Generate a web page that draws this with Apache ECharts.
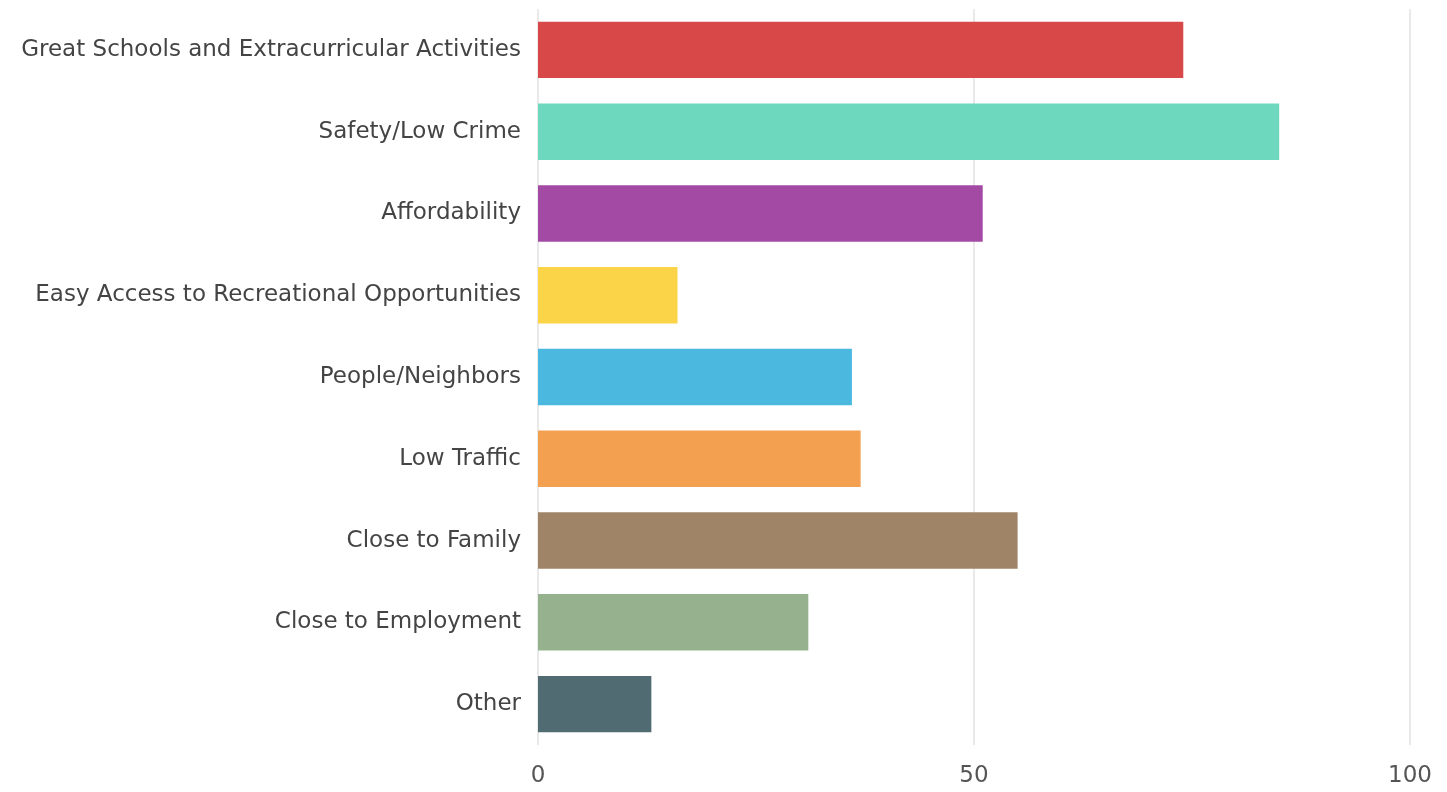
<!DOCTYPE html>
<html>
<head>
<meta charset="utf-8">
<script src="https://cdn.jsdelivr.net/npm/echarts@6/dist/echarts.min.js"></script>
<style>
  html, body { margin: 0; padding: 0; background: #ffffff; }
  #chart { width: 1447px; height: 792px; }
</style>
</head>
<body>
<div id="chart"></div>
<script>
// Reasons for choosing a neighborhood (share of respondents)
const categories = [
  'Great Schools and Extracurricular Activities',
  'Safety/Low Crime',
  'Affordability',
  'Easy Access to Recreational Opportunities',
  'People/Neighbors',
  'Low Traffic',
  'Close to Family',
  'Close to Employment',
  'Other'
];
const values = [74, 85, 51, 16, 36, 37, 55, 31, 13];
const barColors = [
  '#d84848', '#6dd8be', '#a34aa5', '#fcd448', '#4bb8e0',
  '#f3a050', '#a08467', '#95b18d', '#516b72'
];
const xTicks = { min: 0, max: 100, interval: 50 };

const chart = echarts.init(document.getElementById('chart'), null, { renderer: 'canvas' });
chart.setOption({
  animation: false,
  grid: { left: 538, right: 37, top: 9, bottom: 47, containLabel: false },
  xAxis: {
    type: 'value',
    min: xTicks.min,
    max: xTicks.max,
    interval: xTicks.interval,
    axisLine: { show: false },
    axisTick: { show: false },
    splitLine: { show: true, lineStyle: { color: '#e2e2e2', width: 1.5 } },
    axisLabel: {
      color: '#555555',
      fontFamily: 'DejaVu Sans',
      fontSize: 23,
      margin: 20
    }
  },
  yAxis: {
    type: 'category',
    data: categories,
    inverse: true,
    axisLine: { show: false },
    axisTick: { show: false },
    splitLine: { show: false },
    axisLabel: {
      color: '#444444',
      fontFamily: 'DejaVu Sans',
      fontSize: 23,
      margin: 17
    }
  },
  series: [{
    type: 'bar',
    data: values.map((v, i) => ({ value: v, itemStyle: { color: barColors[i] } })),
    barCategoryGap: '31%'
  }]
});
</script>
</body>
</html>
